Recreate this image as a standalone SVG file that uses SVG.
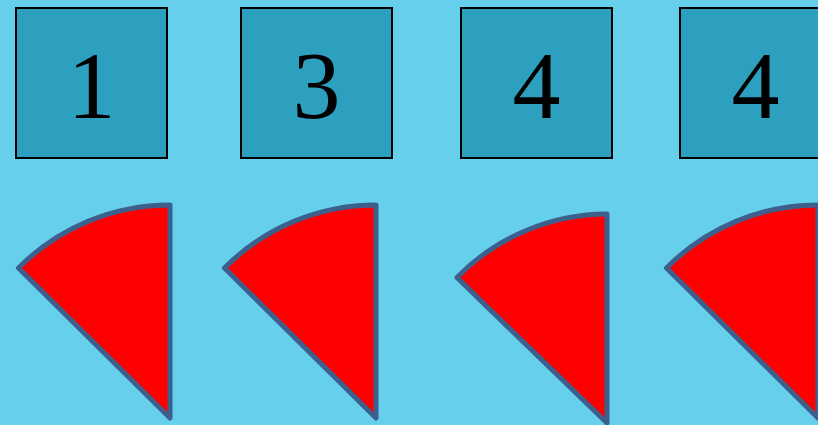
<svg xmlns="http://www.w3.org/2000/svg" width="818" height="425" viewBox="0 0 818 425">
<style>
.box{fill:#2CA0BE;stroke:#000;stroke-width:2}
.num{font-family:"Liberation Serif",serif;font-size:96px;fill:#000;text-anchor:middle}
.wedge{fill:#FF0000;stroke:#3D5F8C;stroke-width:5;stroke-linejoin:round}
</style>
<rect width="818" height="425" fill="#66CFEC"/>
<g id="box1"><rect class="box" x="16" y="8" width="151" height="150"/><text class="num" x="91.5" y="118">1</text></g>
<g id="box2"><rect class="box" x="241" y="8" width="151" height="150"/><text class="num" x="316.5" y="118">3</text></g>
<g id="box3"><rect class="box" x="461" y="8" width="151" height="150"/><text class="num" x="536.5" y="118">4</text></g>
<g id="box4"><rect class="box" x="680" y="8" width="151" height="150"/><text class="num" x="755.5" y="118">4</text></g>
<g id="wedge1"><path class="wedge" d="M170,418 L170,205 A214,214 0 0 0 18.5,268 Z"/></g>
<g id="wedge2"><path class="wedge" d="M376,418 L376,205 A214,214 0 0 0 224.5,268 Z"/></g>
<g id="wedge3"><path class="wedge" d="M607,423 L607,214 A211,211 0 0 0 457,277.5 Z"/></g>
<g id="wedge4"><path class="wedge" d="M818,418 L818,205 A214,214 0 0 0 666.5,268 Z"/></g>
</svg>
